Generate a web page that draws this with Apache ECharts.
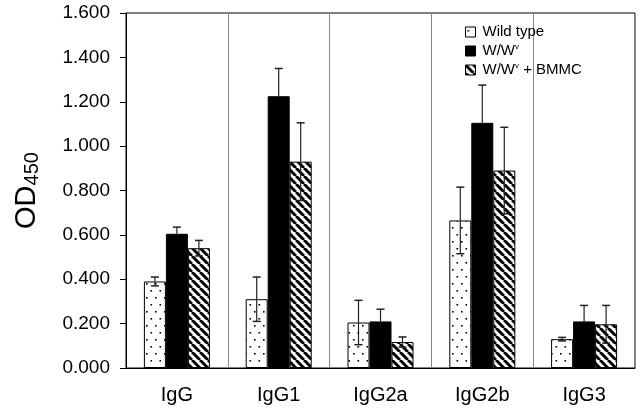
<!DOCTYPE html>
<html>
<head>
<meta charset="utf-8">
<script src="https://cdn.jsdelivr.net/npm/echarts@6/dist/echarts.min.js"></script>
<style>html,body{margin:0;padding:0;background:#fff;}#c{width:640px;height:411px;}</style>
</head>
<body>
<div id="c"></div>
<script>
var categories = ['IgG', 'IgG1', 'IgG2a', 'IgG2b', 'IgG3'];
var seriesNames = ['Wild type', 'W/Wv', 'W/Wv + BMMC'];
var wildType = [0.39, 0.31, 0.205, 0.665, 0.13];
var wildTypeErr = [0.02, 0.10, 0.10, 0.15, 0.008];
var mutant = [0.605, 1.225, 0.21, 1.105, 0.21];
var mutantErr = [0.03, 0.125, 0.055, 0.17, 0.072];
var bmmc = [0.54, 0.93, 0.117, 0.89, 0.197];
var bmmcErr = [0.035, 0.175, 0.023, 0.195, 0.085];
var yTicks = [0, 0.2, 0.4, 0.6, 0.8, 1.0, 1.2, 1.4, 1.6];

var FONT = 'Liberation Sans, Arial, Helvetica, sans-serif';

function dotPattern() {
  var c = document.createElement('canvas');
  c.width = 9; c.height = 14;
  var g = c.getContext('2d');
  g.fillStyle = '#fff'; g.fillRect(0, 0, 9, 14);
  g.fillStyle = '#000';
  g.fillRect(2, 3, 1.6, 1.6);
  g.fillRect(6.5, 10, 1.6, 1.6);
  return c;
}
function stripePattern() {
  var s = 8;
  var c = document.createElement('canvas');
  c.width = s; c.height = s;
  var g = c.getContext('2d');
  g.fillStyle = '#fff'; g.fillRect(0, 0, s, s);
  g.strokeStyle = '#000'; g.lineWidth = 3;
  for (var k = -s; k <= s; k += s) {
    g.beginPath(); g.moveTo(k, 0); g.lineTo(k + s, s); g.stroke();
  }
  return c;
}

var BW = 22;
var offsets = [-BW, 0, BW];
var values = [wildType, mutant, bmmc];
var errs = [wildTypeErr, mutantErr, bmmcErr];
var showLower = [true, false, true];
var fills = [
  { image: dotPattern(), repeat: 'repeat' },
  '#000',
  { image: stripePattern(), repeat: 'repeat' }
];

var series = [];
values.forEach(function (v, i) {
  series.push({
    name: seriesNames[i],
    type: 'bar',
    data: v,
    barWidth: BW,
    barGap: '0%',
    itemStyle: { color: fills[i], borderColor: '#000', borderWidth: 1 }
  });
});
values.forEach(function (v, i) {
  series.push({
    type: 'custom',
    silent: true,
    z: 10,
    data: v.map(function (val, j) { return [j, val, val - errs[i][j], val + errs[i][j]]; }),
    renderItem: function (params, api) {
      var mid = api.coord([api.value(0), api.value(1)]);
      var lo = api.coord([api.value(0), api.value(2)]);
      var hi = api.coord([api.value(0), api.value(3)]);
      var x = lo[0] + offsets[i];
      var hw = 4;
      var st = { stroke: '#222', lineWidth: 1.2 };
      var kids = [
        { type: 'line', shape: { x1: x, y1: mid[1], x2: x, y2: hi[1] }, style: st },
        { type: 'line', shape: { x1: x - hw, y1: hi[1], x2: x + hw, y2: hi[1] }, style: { stroke: '#222', lineWidth: 1.5 } }
      ];
      if (showLower[i]) {
        kids.push({ type: 'line', shape: { x1: x, y1: mid[1], x2: x, y2: lo[1] }, style: st });
        kids.push({ type: 'line', shape: { x1: x - hw, y1: lo[1], x2: x + hw, y2: lo[1] }, style: { stroke: '#222', lineWidth: 1.5 } });
      }
      return { type: 'group', children: kids };
    }
  });
});

var chart = echarts.init(document.getElementById('c'), null, { renderer: 'canvas' });
chart.setOption({
  animation: false,
  backgroundColor: '#fff',
  grid: { left: 126, right: 5, top: 13, bottom: 43, show: true, borderColor: '#000', borderWidth: 1, backgroundColor: 'transparent' },
  legend: {
    data: seriesNames,
    orient: 'vertical',
    left: 460,
    top: 19,
    itemWidth: 10,
    itemHeight: 10,
    itemGap: 3,
    icon: 'rect',
    itemStyle: { borderColor: '#000', borderWidth: 1 },
    textStyle: {
      fontFamily: FONT,
      fontSize: 15,
      lineHeight: 16,
      color: '#000',
      padding: [0, 0, 0, 2],
      rich: { sup: { fontSize: 8, lineHeight: 16, verticalAlign: 'top', padding: [0, 0, 8, 0], fontFamily: FONT, color: '#000' } }
    },
    formatter: function (n) { return n.replace('Wv', 'W{sup|v}'); }
  },
  xAxis: {
    type: 'category',
    data: categories,
    axisLine: { lineStyle: { color: '#000', width: 1 } },
    axisTick: { show: false },
    axisLabel: { fontFamily: FONT, fontSize: 20, color: '#000', margin: 17 },
    splitLine: { show: true, lineStyle: { color: '#888', width: 1 } }
  },
  yAxis: {
    type: 'value',
    min: 0,
    max: 1.6,
    interval: 0.2,
    name: 'OD{sub|450}',
    nameLocation: 'middle',
    nameGap: 84,
    nameRotate: 90,
    nameTextStyle: {
      fontFamily: FONT,
      fontSize: 29,
      color: '#000',
      rich: { sub: { fontSize: 20, verticalAlign: 'bottom', padding: [10, 0, 0, 0], fontFamily: FONT, color: '#000' } }
    },
    axisLine: { show: true, lineStyle: { color: '#000', width: 1 } },
    axisTick: { show: true, length: 6, lineStyle: { color: '#000' } },
    axisLabel: {
      fontFamily: FONT,
      fontSize: 19,
      color: '#000',
      margin: 16,
      formatter: function (v) { return v.toFixed(3); }
    },
    splitLine: { show: false }
  },
  series: series
});
</script>
</body>
</html>
